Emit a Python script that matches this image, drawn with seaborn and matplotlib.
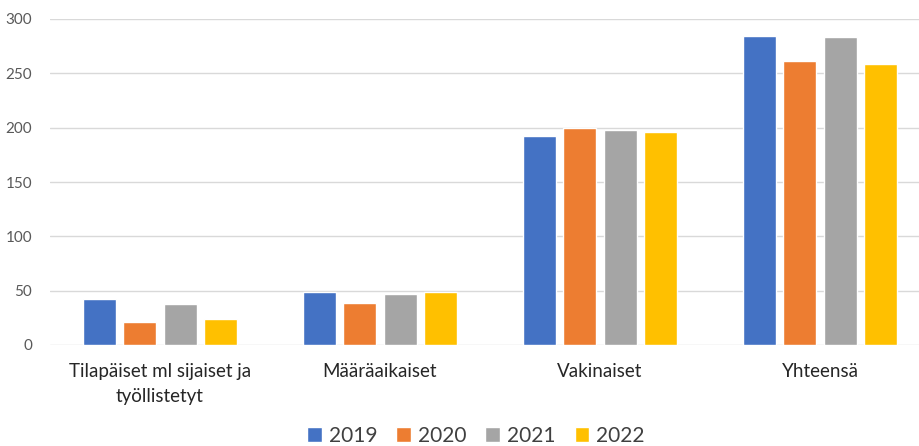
import pandas as pd
import seaborn as sns
import matplotlib.pyplot as plt

# Values
categories = ["Tilapäiset ml sijaiset ja\ntyöllistetyt", "Määräaikaiset", "Vakinaiset", "Yhteensä"]
years = ["2019", "2020", "2021", "2022"]
v2019 = [42, 49, 192, 284]
v2020 = [21, 39, 200, 261]
v2021 = [38, 47, 198, 283]
v2022 = [24, 49, 196, 259]
colors = ["#4472C4", "#ED7D31", "#A5A5A5", "#FFC000"]

rows = []
for year, vals in zip(years, [v2019, v2020, v2021, v2022]):
    for cat, v in zip(categories, vals):
        rows.append({"Kategoria": cat, "Vuosi": year, "Arvo": v})
df = pd.DataFrame(rows)

sns.set_theme(style="white")
plt.rcParams["font.family"] = ["Lato", "DejaVu Sans"]

fig = plt.figure(figsize=(9.19, 4.46), dpi=100)
ax = fig.add_axes([50 / 919, 101 / 446, 880 / 919, 326 / 446])

sns.barplot(
    data=df, x="Kategoria", y="Arvo", hue="Vuosi",
    order=categories, hue_order=years, palette=colors,
    width=0.73, gap=0.18, saturation=1, ax=ax, legend=True,
)

ax.set_ylim(0, 300)
ax.set_yticks(range(0, 301, 50))
ax.yaxis.grid(True, color="#D9D9D9", linewidth=1)
ax.set_axisbelow(True)
for s in ax.spines.values():
    s.set_visible(False)
ax.set_xlabel("")
ax.set_ylabel("")
ax.tick_params(axis="y", length=0, labelsize=11, labelcolor="#595959", pad=13)
ax.tick_params(axis="x", length=0, labelsize=13.5, labelcolor="#262626", pad=13)
for lab in ax.get_xticklabels():
    lab.set_linespacing(1.6)

ax.legend_.remove()
handles, labels = ax.get_legend_handles_labels()
fig.legend(
    handles, labels, loc="center", bbox_to_anchor=(476 / 919, 1 - 436 / 446),
    ncol=4, frameon=False, fontsize=15, handlelength=0.7, handleheight=0.7,
    handletextpad=0.35, columnspacing=0.9, labelcolor="#404040",
)

fig.savefig("out.png", dpi=100)
